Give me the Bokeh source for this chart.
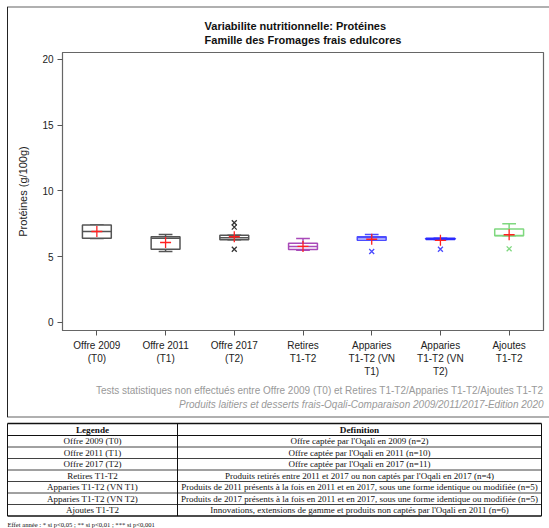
from bokeh.plotting import figure
from bokeh.models import Range1d, FactorRange, Title, ColumnDataSource, FixedTicker
from bokeh.layouts import column
from bokeh.transform import dodge
from bokeh.embed import file_html
from bokeh.resources import INLINE
from bokeh.core.properties import value

# ---------------- data ----------------
categories = ["Offre 2009\n(T0)", "Offre 2011\n(T1)", "Offre 2017\n(T2)", "Retires\nT1-T2",
              "Apparies\nT1-T2 (VN\nT1)", "Apparies\nT1-T2 (VN\nT2)", "Ajoutes\nT1-T2"]
q1 = [6.40, 5.57, 6.29, 5.55, 6.26, 6.31, 6.59]
q3 = [7.42, 6.52, 6.64, 6.03, 6.52, 6.40, 7.10]
median = [6.92, 6.40, 6.45, 5.78, 6.45, 6.36, 6.62]
whisker_low = [6.39, 5.40, 6.29, 5.50, 6.26, 6.31, 6.59]
whisker_high = [7.42, 6.69, 6.64, 6.39, 6.69, 6.40, 7.50]
mean = [6.92, 6.08, 6.52, 5.78, 6.33, 6.25, 6.67]
colors = ["#555555", "#555555", "#555555", "#a94ab9", "#4c4cff", "#2a2aff", "#7fd87f"]

outlier_idx = [2, 2, 2, 4, 5, 6]
outlier_val = [7.58, 7.25, 5.57, 5.40, 5.57, 5.60]
outlier_col = ["#333333", "#333333", "#333333", "#4c4cff", "#4c4cff", "#7fd87f"]

title_text = "Variabilite nutritionnelle: Protéines\nFamille des Fromages frais edulcores"
y_label = "Protéines (g/100g)"
footer1 = "Tests statistiques non effectués entre Offre 2009 (T0) et Retires T1-T2/Apparies T1-T2/Ajoutes T1-T2"
footer2 = "Produits laitiers et desserts frais-Oqali-Comparaison 2009/2011/2017-Edition 2020"

table_head = ["Legende", "Definition"]
legend_col = ["Offre 2009 (T0)", "Offre 2011 (T1)", "Offre 2017 (T2)", "Retires T1-T2",
              "Apparies T1-T2 (VN T1)", "Apparies T1-T2 (VN T2)", "Ajoutes T1-T2"]
definition_col = [
    "Offre captée par l'Oqali en 2009 (n=2)",
    "Offre captée par l'Oqali en 2011 (n=10)",
    "Offre captée par l'Oqali en 2017 (n=11)",
    "Produits retirés entre 2011 et 2017 ou non captés par l'Oqali en 2017 (n=4)",
    "Produits de 2011 présents à la fois en 2011 et en 2017, sous une forme identique ou modifiée (n=5)",
    "Produits de 2017 présents à la fois en 2011 et en 2017, sous une forme identique ou modifiée (n=5)",
    "Innovations, extensions de gamme et produits non captés par l'Oqali en 2011 (n=6)",
]
footnote = "Effet année : * si p<0,05 ; ** si p<0,01 ; *** si p<0,001"

FONT = "Liberation Sans"
SERIF = "Liberation Serif"
W = 549
CH = 418

# ---------------- chart ----------------
p = figure(x_range=FactorRange(*categories), y_range=Range1d(-0.61, 20.53),
           width=W, height=CH, output_backend="svg", toolbar_location=None,
           min_border_left=62, min_border_right=6, min_border_top=52, min_border_bottom=88)
p.frame_align = False
p.background_fill_color = "white"
p.border_fill_color = None
p.styles = {
    "background-color": "white",
    "background-image": "linear-gradient(#222,#222), linear-gradient(#b0b0b0,#b0b0b0), linear-gradient(#b0b0b0,#b0b0b0)",
    "background-size": "1px 410px, 542px 2px, 542px 2px",
    "background-position": "7px 7px, 7px 6px, 7px 416px",
    "background-repeat": "no-repeat",
}
p.outline_line_color = "#666666"
p.outline_line_width = 1.2
p.xgrid.visible = False
p.ygrid.visible = False

src = ColumnDataSource(dict(cat=categories, q1=q1, q3=q3, med=median, lo=whisker_low,
                            hi=whisker_high, mean=mean, color=colors))

# whiskers
p.segment(x0="cat", y0="q3", x1="cat", y1="hi", source=src, line_color="color", line_width=1.5)
p.segment(x0="cat", y0="q1", x1="cat", y1="lo", source=src, line_color="color", line_width=1.5)
# caps
p.segment(x0=dodge("cat", -0.1, range=p.x_range), x1=dodge("cat", 0.1, range=p.x_range),
          y0="hi", y1="hi", source=src, line_color="color", line_width=1.5)
p.segment(x0=dodge("cat", -0.1, range=p.x_range), x1=dodge("cat", 0.1, range=p.x_range),
          y0="lo", y1="lo", source=src, line_color="color", line_width=1.5)
# boxes
p.vbar(x="cat", bottom="q1", top="q3", width=0.42, source=src, fill_color="white",
       line_color="color", line_width=1.5)
# medians
p.segment(x0=dodge("cat", -0.21, range=p.x_range), x1=dodge("cat", 0.21, range=p.x_range),
          y0="med", y1="med", source=src, line_color="color", line_width=1.5)
# means
p.scatter(x="cat", y="mean", source=src, marker="cross", size=11, line_color="#ff2020",
          line_width=1.3)
# outliers
p.scatter(x=[categories[i] for i in outlier_idx], y=outlier_val, marker="x", size=7,
          line_color=outlier_col, line_width=1.3)

p.yaxis.ticker = FixedTicker(ticks=[0, 5, 10, 15, 20])
p.yaxis.minor_tick_line_color = None
p.yaxis.axis_label = y_label
for ax in (p.xaxis[0], p.yaxis[0]):
    ax.axis_line_color = "#666666"
    ax.major_tick_line_color = "#555555"
    ax.major_tick_out = 5
    ax.major_tick_in = 0
    ax.major_label_text_font = FONT
    ax.major_label_text_font_size = "10px"
    ax.major_label_text_color = "#222222"
p.yaxis.axis_label_text_font = FONT
p.yaxis.axis_label_text_font_size = "11px"
p.yaxis.axis_label_text_font_style = "normal"
p.yaxis.axis_label_text_color = "#222222"
p.yaxis.axis_label_standoff = 10
p.yaxis.major_label_standoff = 4
p.xaxis.major_label_standoff = 4

p.add_layout(Title(text=title_text, align="center", text_font=FONT, text_font_size="11px",
                   text_font_style="bold", text_color="#111111", standoff=13.5,
                   text_line_height=1.12), "above")
p.add_layout(Title(text=footer1, align="right", text_font=FONT, text_font_size="10px",
                   text_font_style="normal", text_color="#999999", standoff=7), "below")
p.add_layout(Title(text=footer2, align="right", text_font=FONT, text_font_size="10px",
                   text_font_style="italic", text_color="#999999", standoff=-6), "below")

# ---------------- table ----------------
TH = 110
t = figure(width=W, height=TH, x_range=Range1d(0, W), y_range=Range1d(TH, 0),
           output_backend="svg", toolbar_location=None, x_axis_type=None, y_axis_type=None,
           min_border=0, min_border_left=0, min_border_right=0, min_border_top=0,
           min_border_bottom=0, outline_line_color=None)
t.frame_align = False
t.background_fill_color = "white"
t.border_fill_color = "white"
t.grid.visible = False

tab_left, tab_mid, tab_right = 7, 177, 541
tab_top, head_h, row_h = 5, 12, 11.5
n = len(legend_col)
row_edges = [tab_top, tab_top + head_h] + [tab_top + head_h + row_h * (i + 1) for i in range(n)]
t.segment(x0=[tab_left] * len(row_edges), x1=[tab_right] * len(row_edges),
          y0=row_edges, y1=row_edges, line_color="#111111",
          line_width=[1.6, 1.2] + [0.8] * (n - 1) + [1.6])
t.segment(x0=[tab_left, tab_mid, tab_right], x1=[tab_left, tab_mid, tab_right],
          y0=[tab_top] * 3, y1=[row_edges[-1]] * 3, line_color="#111111", line_width=1)

head_y = tab_top + head_h / 2
t.text(x=[(tab_left + tab_mid) / 2, (tab_mid + tab_right) / 2], y=[head_y, head_y],
       text=table_head, text_align="center", text_baseline="middle",
       text_font=value(SERIF), text_font_size="9.2px", text_font_style="bold",
       text_color="#111111")
row_y = [tab_top + head_h + row_h * (i + 0.5) for i in range(n)]
t.text(x=[(tab_left + tab_mid) / 2] * n, y=row_y, text=legend_col, text_align="center",
       text_baseline="middle", text_font=value(SERIF), text_font_size="9px",
       text_color="#111111")
t.text(x=[(tab_mid + tab_right) / 2] * n, y=row_y, text=definition_col, text_align="center",
       text_baseline="middle", text_font=value(SERIF), text_font_size="9px",
       text_color="#111111")
t.text(x=[tab_left], y=[row_edges[-1] + 8], text=[footnote], text_align="left",
       text_baseline="middle", text_font=value(SERIF), text_font_size="6.6px",
       text_color="#111111")

layout = column(p, t, spacing=0)
open("out.html", "w").write(file_html(layout, INLINE))
